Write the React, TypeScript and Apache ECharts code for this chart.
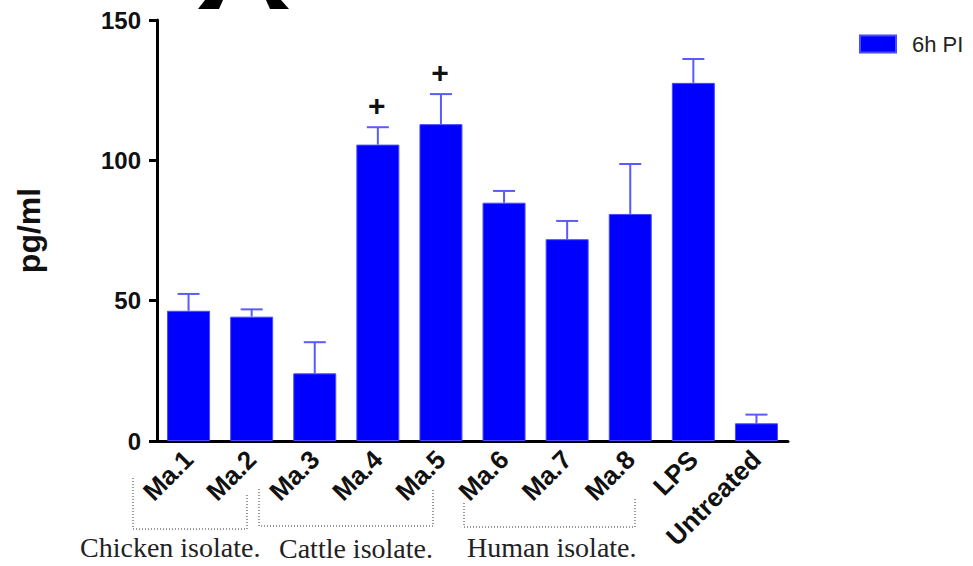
import React, { useEffect, useRef } from "react";
import * as echarts from "echarts";

const categories = ["Ma.1", "Ma.2", "Ma.3", "Ma.4", "Ma.5", "Ma.6", "Ma.7", "Ma.8", "LPS", "Untreated"];
const means = [46.4, 44.3, 24.1, 105.6, 112.9, 84.9, 71.9, 80.9, 127.6, 6.3];
const errorTops = [52.4, 46.9, 35.2, 111.8, 123.6, 89.1, 78.4, 98.7, 136.1, 9.4];
const marks = ["", "", "", "+", "+", "", "", "", "", ""];
const yTicks = { min: 0, max: 150, interval: 50 };
const seriesName = "6h PI";
const groups = [
  { label: "Chicken isolate.", from: 0, to: 1 },
  { label: "Cattle isolate.", from: 2, to: 4 },
  { label: "Human isolate.", from: 5, to: 7 },
];

const SANS = "'Liberation Sans', Arial, sans-serif";
const SERIF = "'Liberation Serif', 'Times New Roman', serif";

export default function App() {
  const ref = useRef<HTMLDivElement>(null);
  useEffect(() => {
    if (!ref.current) return;
    const chart = echarts.init(ref.current, null, { renderer: "svg" });
    const dash = { stroke: "#333", lineWidth: 1, lineDash: [1, 2] };
    const option: any = {
      animation: false,
      backgroundColor: "#fff",
      legend: {
        data: [seriesName],
        left: 854,
        top: 28,
        itemWidth: 36,
        itemHeight: 17,
        icon: "rect",
        textStyle: { fontFamily: SANS, fontSize: 22, color: "#222", padding: [0, 0, 0, 11] },
      },
      grid: { left: 157, right: 185, top: 20, bottom: 125 },
      xAxis: {
        type: "category",
        data: categories,
        axisLine: { lineStyle: { color: "#000", width: 3 } },
        axisTick: { alignWithLabel: true, length: 7, lineStyle: { color: "#000", width: 3 } },
        axisLabel: {
          rotate: 45,
          interval: 0,
          margin: 14,
          fontFamily: SANS,
          fontSize: 26,
          fontWeight: "bold",
          color: "#111",
        },
      },
      yAxis: {
        type: "value",
        min: yTicks.min,
        max: yTicks.max,
        interval: yTicks.interval,
        name: "pg/ml",
        nameLocation: "middle",
        nameGap: 112,
        nameTextStyle: { fontFamily: SANS, fontSize: 32, fontWeight: "bold", color: "#111" },
        axisLine: { show: true, lineStyle: { color: "#000", width: 3 } },
        axisTick: { show: true, length: 8, lineStyle: { color: "#000", width: 3 } },
        axisLabel: { margin: 16, fontFamily: SANS, fontSize: 24, fontWeight: "bold", color: "#111" },
        splitLine: { show: false },
      },
      series: [
        {
          name: seriesName,
          type: "bar",
          data: means,
          barWidth: 43,
          itemStyle: { color: "#0000ff", borderColor: "#4a4aff", borderWidth: 1 },
        },
        {
          type: "custom",
          data: categories.map((_, i) => [i, means[i], errorTops[i]]),
          renderItem: (params: any, api: any) => {
            const i = api.value(0);
            const base = api.coord([i, api.value(1)]);
            const top = api.coord([i, api.value(2)]);
            const children: any[] = [
              { type: "line", shape: { x1: base[0], y1: base[1], x2: top[0], y2: top[1] }, style: { stroke: "#5a5aff", lineWidth: 2 } },
              { type: "line", shape: { x1: top[0] - 11, y1: top[1], x2: top[0] + 11, y2: top[1] }, style: { stroke: "#5a5aff", lineWidth: 2 } },
            ];
            const m = marks[params.dataIndex];
            if (m) {
              children.push({
                type: "text",
                style: {
                  text: m,
                  x: top[0] - 1,
                  y: top[1] - 22,
                  align: "center",
                  verticalAlign: "middle",
                  fontFamily: SANS,
                  fontSize: 30,
                  fontWeight: "bold",
                  fill: "#111",
                },
              });
            }
            return { type: "group", children };
          },
          z: 3,
        },
      ],
      graphic: [
        { type: "polygon", shape: { points: [[198, 9], [219, 9], [223, 0], [205, 0]] }, style: { fill: "#000" } },
        { type: "polygon", shape: { points: [[266, 0], [281, 0], [289, 9], [270, 9]] }, style: { fill: "#000" } },
        { type: "polyline", shape: { points: [[133, 478], [133, 529], [247, 529], [247, 495]] }, style: { ...dash, fill: null } },
        { type: "polyline", shape: { points: [[259, 489], [259, 526], [433, 526], [433, 489]] }, style: { ...dash, fill: null } },
        { type: "polyline", shape: { points: [[464, 503], [464, 527], [635, 527], [635, 497]] }, style: { ...dash, fill: null } },
        { type: "text", style: { text: groups[0].label, x: 80, y: 561, verticalAlign: "bottom", fontFamily: SERIF, fontSize: 28, fill: "#222" } },
        { type: "text", style: { text: groups[1].label, x: 279, y: 562, verticalAlign: "bottom", fontFamily: SERIF, fontSize: 28, fill: "#222" } },
        { type: "text", style: { text: groups[2].label, x: 467, y: 561, verticalAlign: "bottom", fontFamily: SERIF, fontSize: 28, fill: "#222" } },
      ],
    };
    chart.setOption(option);
    return () => chart.dispose();
  }, []);
  return <div ref={ref} style={{ position: "fixed", left: 0, top: 0, width: 973, height: 566 }} />;
}
